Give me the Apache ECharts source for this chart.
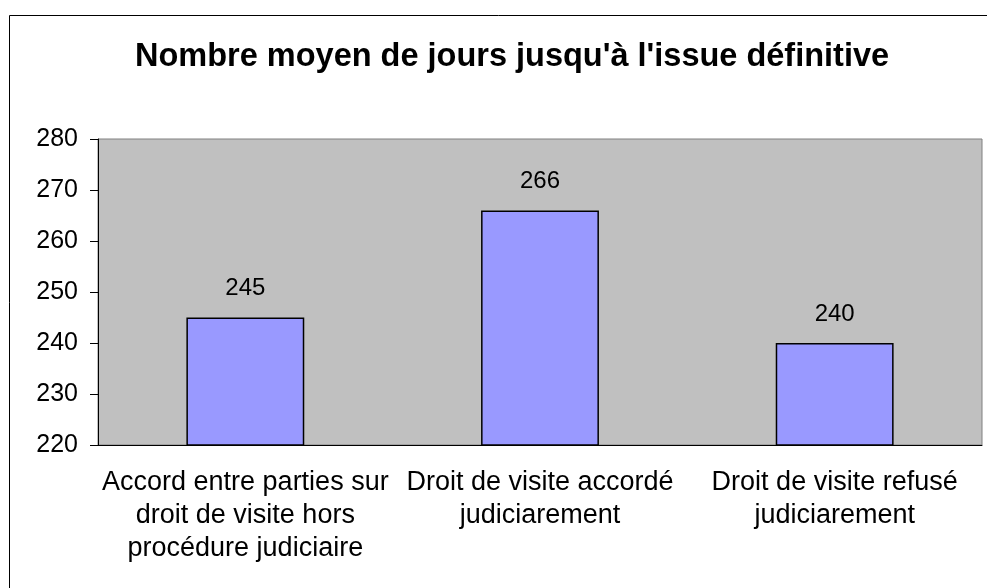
<!DOCTYPE html>
<html>
<head>
<meta charset="utf-8">
<script src="https://cdn.jsdelivr.net/npm/echarts@6/dist/echarts.min.js"></script>
<style>
  html, body { margin: 0; padding: 0; background: #fff; }
  #main { width: 987px; height: 588px; }
</style>
</head>
<body>
<div id="main"></div>
<script>
// donnees du graphique
var categories = [
    'Accord entre parties sur\ndroit de visite hors\nprocédure judiciaire',
    'Droit de visite accordé\njudiciarement',
    'Droit de visite refusé\njudiciarement'
];
var jours = [245, 266, 240];
var yMin = 220, yMax = 280, yStep = 10;

var myChart = echarts.init(document.getElementById('main'));
var font = 'Liberation Sans, Arial, sans-serif';

option = {
    animation: false,
    title: {
        text: "Nombre moyen de jours jusqu'à l'issue définitive",
        left: 130,
        top: 36,
        textStyle: {
            fontFamily: font,
            fontSize: 32.5,
            fontWeight: 'bold',
            color: '#000'
        }
    },
    // cadre autour du graphique
    graphic: [{
        type: 'rect',
        shape: { x: 9.5, y: 15.5, width: 1000, height: 600 },
        style: { fill: 'none', stroke: '#000', lineWidth: 1 }
    }],
    grid: {
        left: 98,
        right: 5,
        top: 139,
        bottom: 143,
        show: true,
        backgroundColor: '#C0C0C0',
        borderColor: '#808080',
        borderWidth: 1
    },
    xAxis: {
        type: 'category',
        data: categories,
        axisLine: { lineStyle: { color: '#000', width: 1 } },
        axisTick: { length: 6, lineStyle: { color: '#000' } },
        axisLabel: {
            interval: 0,
            margin: 21,
            color: '#000',
            fontFamily: font,
            fontSize: 27,
            lineHeight: 33,
            align: 'center'
        }
    },
    yAxis: {
        type: 'value',
        min: yMin,
        max: yMax,
        interval: yStep,
        axisLine: { show: true, lineStyle: { color: '#000', width: 1 } },
        axisTick: { show: true, length: 8, lineStyle: { color: '#000' } },
        splitLine: { show: false },
        axisLabel: {
            margin: 20,
            color: '#000',
            fontFamily: font,
            fontSize: 25
        }
    },
    series: [{
        type: 'bar',
        data: jours,
        barWidth: '40%',
        itemStyle: {
            color: '#9999FF',
            borderColor: '#000',
            borderWidth: 1.5
        },
        label: {
            show: true,
            position: 'top',
            distance: 17,
            color: '#000',
            fontFamily: font,
            fontSize: 24
        }
    }]
};

myChart.setOption(option);
</script>
</body>
</html>
